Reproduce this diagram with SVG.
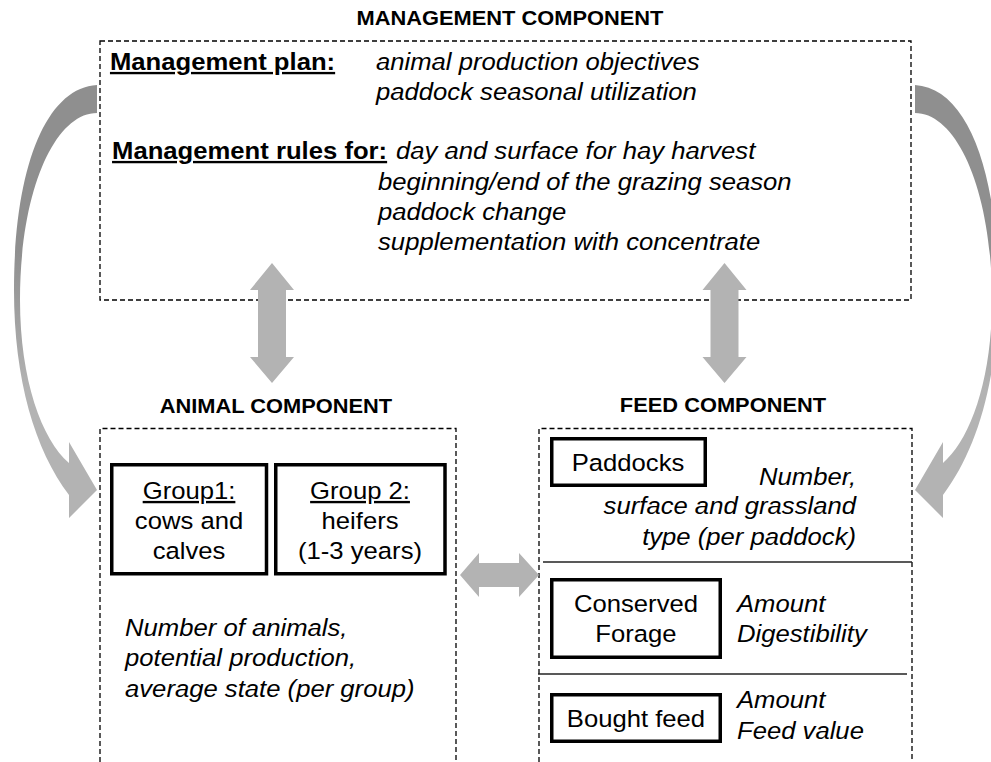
<svg xmlns="http://www.w3.org/2000/svg" width="991" height="762" viewBox="0 0 991 762">
<style>
text{font-family:"Liberation Sans",Arial,sans-serif;fill:#000}
.title{font-size:20px;font-weight:bold;text-anchor:middle}
.b{font-size:23.5px;font-weight:bold;text-decoration:underline}
.i{font-size:23.5px;font-style:italic}
.r{font-size:23.5px;text-anchor:middle}
.u{text-decoration:underline}
.end{text-anchor:end}
.dash{fill:none;stroke:#000;stroke-width:1.3;stroke-dasharray:5 3}
.box{fill:#fff;stroke:#000;stroke-width:3.5}
.sep{stroke:#222;stroke-width:1.3}
.big{fill:#b3b3b3}
</style>
<defs>
<linearGradient id="cg" gradientUnits="userSpaceOnUse" x1="0" y1="250" x2="0" y2="390">
<stop offset="0" stop-color="#8f8f8f"/>
<stop offset="1" stop-color="#b3b3b3"/>
</linearGradient>
<path id="curve" d="M97,85 C45,88 14,170 14,290 C14,380 35,450 69,495 L69,518 L97,490 L69,442 L69,463 C42,440 20,380 20,300 C20,190 55,113 97,113 Z" fill="url(#cg)"/>
</defs>

<g id="management">
<rect class="dash" x="100" y="41" width="811" height="259"/>
<g transform="scale(1.092 1)">
<text class="title" x="467" y="25">MANAGEMENT COMPONENT</text>
<text class="b" x="100.7" y="70">Management plan:</text>
<text class="i" x="344.3" y="70">animal production objectives</text>
<text class="i" x="344.3" y="100">paddock seasonal utilization</text>
<text class="b" x="102.6" y="159">Management rules for:</text>
<text class="i" x="362.6" y="159">day and surface for hay harvest</text>
<text class="i" x="346.2" y="190">beginning/end of the grazing season</text>
<text class="i" x="346.2" y="220">paddock change</text>
<text class="i" x="346.2" y="250">supplementation with concentrate</text>
</g>
</g>

<g id="animal">
<path class="dash" d="M100,770 V428.5 H456 V770"/>
<g transform="scale(1.092 1)">
<text class="title" x="252.7" y="413">ANIMAL COMPONENT</text>
<text class="i" x="114.5" y="636">Number of animals,</text>
<text class="i" x="114.5" y="666">potential production,</text>
<text class="i" x="114.5" y="697">average state (per group)</text>
</g>
</g>

<g id="group1">
<rect class="box" x="111.75" y="464.75" width="154.75" height="109"/>
<g transform="scale(1.092 1)">
<text class="r u" x="173.1" y="499">Group1:</text>
<text class="r" x="173.1" y="529">cows and</text>
<text class="r" x="173.1" y="559">calves</text>
</g>
</g>

<g id="group2">
<rect class="box" x="275.75" y="464.75" width="169.25" height="109"/>
<g transform="scale(1.092 1)">
<text class="r u" x="329.7" y="499">Group 2:</text>
<text class="r" x="329.7" y="529">heifers</text>
<text class="r" x="329.7" y="559">(1-3 years)</text>
</g>
</g>

<g id="feed">
<path class="dash" d="M539,770 V428.5 H912 V770"/>
<line class="sep" x1="543" y1="562" x2="912" y2="562"/>
<line class="sep" x1="538" y1="674" x2="907" y2="674"/>
<g transform="scale(1.092 1)">
<text class="title" x="662.1" y="412.5">FEED COMPONENT</text>
</g>
</g>

<g id="paddocks">
<rect class="box" x="551.75" y="438.75" width="153.5" height="46.5"/>
<g transform="scale(1.092 1)">
<text class="r" x="575.1" y="471">Paddocks</text>
<text class="i end" x="783.9" y="485">Number,</text>
<text class="i end" x="783.9" y="514">surface and grassland</text>
<text class="i end" x="783.9" y="545">type (per paddock)</text>
</g>
</g>

<g id="conserved">
<rect class="box" x="551.75" y="579.75" width="168.5" height="77.5"/>
<g transform="scale(1.092 1)">
<text class="r" x="582.4" y="612">Conserved</text>
<text class="r" x="582.4" y="642">Forage</text>
<text class="i" x="674.9" y="612">Amount</text>
<text class="i" x="674.9" y="642">Digestibility</text>
</g>
</g>

<g id="bought">
<rect class="box" x="551.75" y="694.75" width="168.5" height="46.5"/>
<g transform="scale(1.092 1)">
<text class="r" x="582.4" y="727">Bought feed</text>
<text class="i" x="674.9" y="708">Amount</text>
<text class="i" x="674.9" y="739">Feed value</text>
</g>
</g>

<g id="connectors">
<polygon class="big" points="272,263 294,290 286,290 286,357 294,357 272,383 250,357 258,357 258,290 250,290"/>
<polygon class="big" points="724.5,263 746.5,290 738.5,290 738.5,357 746.5,357 724.5,383 702.5,357 710.5,357 710.5,290 702.5,290"/>
<polygon class="big" points="460,575 479,553 479,563 519,563 519,553 539,575 519,597 519,587 479,587 479,597"/>
<use href="#curve"/>
<use href="#curve" transform="translate(1012 0) scale(-1 1)"/>
</g>
</svg>
